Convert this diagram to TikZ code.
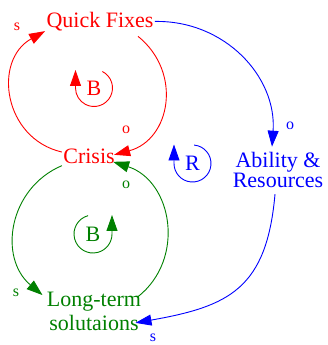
\documentclass[tikz,border=0pt]{standalone}
\usepackage{fontspec}
\setmainfont{Liberation Serif}
\usetikzlibrary{arrows.meta}
\definecolor{loopgreen}{RGB}{0,128,0}

\begin{document}
\begin{tikzpicture}[x=1pt,y=1pt,line width=0.9pt,
		every node/.style={font=\fontsize{22}{24}\selectfont,inner sep=1pt},
		pol/.style={font=\fontsize{16}{16}\selectfont},
		>={Triangle[length=16pt,width=11pt]}]
	\useasboundingbox (0,0) rectangle (327,345);
	% variables
	\node[red,anchor=base] (qf) at (100,317.7) {Quick Fixes};
	\node[red,anchor=base] (crisis) at (89,181) {Crisis};
	\node[loopgreen,align=center,anchor=north] (lts) at (94,53.9) {Long-term\\solutaions};
	\node[blue,align=center,anchor=north,font=\fontsize{22}{20}\selectfont] (ar) at (278,194.3) {Ability \&\\Resources};
	% red loop
	\draw[red,->] (crisis.170) to[out=167,in=209,out distance=60pt,in distance=60pt] (qf.190);
	\draw[red,->] ([shift={(38,-4)}]qf.south) to[out=-39,in=15,out distance=58pt,in distance=58pt] ([shift={(-2,2)}]crisis.east);
	\node[pol,red] (s1) at (17,318) {s};
	\node[pol,red] (o1) at (126,215) {o};
	\node[red] (b1) at (94,257) {B};
	\draw[red,->] ([shift={(63:18.5)}]b1.center) arc[start angle=63,end angle=-180,radius=18.5] -- ++(0,18);
	% green loop
	\draw[loopgreen,->] ([shift={(-5,-6)}]lts.north east) to[out=38,in=-18,out distance=62pt,in distance=62pt] ([shift={(-3,-5)}]crisis.east);
	\draw[loopgreen,->] (crisis.south west) to[out=203,in=140,out distance=58pt,in distance=58pt] ([shift={(-3,-4)}]lts.north west);
	\node[pol,loopgreen] (o2) at (126,160) {o};
	\node[pol,loopgreen] (s2) at (16,52) {s};
	\node[loopgreen] (b2) at (93,111) {B};
	\draw[loopgreen,->] ([shift={(105:19)}]b2.center) arc[start angle=105,end angle=360,radius=19] -- ++(0,19);
	% blue loop
	\draw[blue,->] (qf.east) to[out=1,in=86,out distance=70pt,in distance=70pt] ([shift={(-6,4)}]ar.north);
	\draw[blue,->] ([shift={(-3,-5)}]ar.south) to[out=-95,in=10,out distance=95pt,in distance=95pt] ([shift={(-7,-11)}]lts.east);
	\node[pol,blue] (o3) at (290,219) {o};
	\node[pol,blue] (s3) at (153,7) {s};
	\node[blue] (r) at (192.5,181.5) {R};
	\draw[blue,->] ([shift={(85:18.5)}]r.center) arc[start angle=85,end angle=-180,radius=18.5] -- ++(0,19);
\end{tikzpicture}
\end{document}
